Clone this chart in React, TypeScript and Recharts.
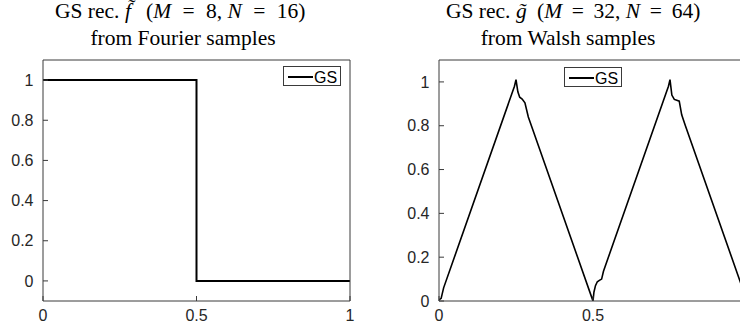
import React from 'react';
import { LineChart, Line, XAxis, YAxis, Legend } from 'recharts';

// ---- data ----
const stepX = [0, 0.5, 0.5, 1];
const stepY = [1, 1, 0, 0];

const triX = [0, 0.007, 0.015, 0.245, 0.25, 0.256, 0.262, 0.27, 0.279, 0.29, 0.3, 0.495, 0.5, 0.503, 0.508, 0.514, 0.522, 0.528, 0.534, 0.745, 0.75, 0.756, 0.764, 0.772, 0.78, 0.788, 0.8, 0.99, 1];
const triY = [0.005, 0.012, 0.06, 0.98, 1.01, 0.955, 0.93, 0.922, 0.905, 0.84, 0.8, 0.02, 0.0, 0.04, 0.07, 0.088, 0.095, 0.1, 0.136, 0.98, 1.01, 0.94, 0.92, 0.916, 0.912, 0.85, 0.8, 0.04, 0.005];

const xTicksLeft = [0, 0.5, 1];
const xTicksRight = [0, 0.5];
const yTicks = [0, 0.2, 0.4, 0.6, 0.8, 1];
const seriesName = 'GS';

const leftData = stepX.map((x, i) => ({ x, y: stepY[i] }));
const rightData = triX.map((x, i) => ({ x, y: triY[i] }));

const AX = '#3a3a3a';
const sans = 'Liberation Sans, Arial, sans-serif';
const serif = 'Liberation Serif, Times New Roman, serif';
const tickStyle = { fontFamily: sans, fontSize: 16, fill: '#262626' };

const LegendBox = (props: any) => {
  const label = props.payload && props.payload[0] ? props.payload[0].value : seriesName;
  return (
    <div style={{ width: 58, height: 20, border: `1px solid ${AX}`, background: '#fff', boxSizing: 'border-box', position: 'relative' }}>
      <svg width={56} height={18} style={{ position: 'absolute', left: 0, top: 0 }}>
        <line x1={4} x2={29} y1={10} y2={10} stroke="#000" strokeWidth={2} />
        <text x={30} y={15.5} style={{ fontFamily: sans, fontSize: 16, fill: '#000' }}>{label}</text>
      </svg>
    </div>
  );
};

const YW = 40; // left axis band width
const XH = 30; // bottom axis band height

function axes(domainY: [number, number], xTicks: number[]) {
  return [
    <XAxis key="xb" xAxisId="b" dataKey="x" type="number" domain={[0, 1]} ticks={xTicks} height={XH}
      tickSize={-5} tickMargin={14} stroke={AX} tick={tickStyle} allowDataOverflow interval={0} />,
    <XAxis key="xt" xAxisId="t" orientation="top" dataKey="x" type="number" domain={[0, 1]} ticks={xTicks} height={1}
      tickSize={-5} tick={false} stroke={AX} allowDataOverflow />,
    <YAxis key="yl" yAxisId="l" type="number" domain={domainY} ticks={yTicks} width={YW}
      tickSize={-5} tickMargin={14.5} stroke={AX} tick={tickStyle} allowDataOverflow interval={0} />,
    <YAxis key="yr" yAxisId="r" orientation="right" type="number" domain={domainY} ticks={yTicks} width={1}
      tickSize={-5} tick={false} stroke={AX} allowDataOverflow />,
  ];
}

const Math1 = ({ x, y, a, b, gap }: { x: number; y: number; a: string; b: string; gap: number }) => (
  <text x={x} y={y}>
    (<tspan fontStyle="italic">M</tspan> <tspan dx={gap}>=</tspan> <tspan dx={gap}>{a},</tspan> <tspan fontStyle="italic">N</tspan> <tspan dx={gap}>=</tspan> <tspan dx={gap}>{b})</tspan>
  </text>
);

export default function App() {
  return (
    <div style={{ position: 'absolute', left: 0, top: 0, width: 740, height: 333, overflow: 'hidden', background: '#fff' }}>
      <div style={{ position: 'absolute', left: 0, top: 0 }}>
        <LineChart width={370} height={333} data={leftData} margin={{ left: 43 - YW, right: 19, top: 59, bottom: 32 - XH }}>
          {axes([-0.1, 1.1], xTicksLeft)}
          <Line xAxisId="b" yAxisId="l" dataKey="y" name={seriesName} type="linear" stroke="#000" strokeWidth={2}
            dot={false} isAnimationActive={false} />
          <Legend layout="horizontal" verticalAlign="middle" align="center" content={<LegendBox />}
            wrapperStyle={{ left: 283, top: 66, width: 58, height: 20 }} />
        </LineChart>
      </div>
      <div style={{ position: 'absolute', left: 370, top: 0 }}>
        <LineChart width={400} height={333} data={rightData} margin={{ left: 69 - YW, right: 22, top: 59, bottom: 32 - XH }}>
          {axes([0, 1.1], xTicksRight)}
          <Line xAxisId="b" yAxisId="l" dataKey="y" name={seriesName} type="linear" stroke="#000" strokeWidth={1.6}
            dot={false} isAnimationActive={false} />
          <Legend layout="horizontal" verticalAlign="middle" align="center" content={<LegendBox />}
            wrapperStyle={{ left: 194, top: 67, width: 58, height: 20 }} />
        </LineChart>
      </div>
      <svg width={740} height={333} style={{ position: 'absolute', left: 0, top: 0, pointerEvents: 'none' }}>
        <g style={{ fontFamily: serif, fontSize: 21.5, fill: '#000' }}>
          <text x={55} y={18}>GS rec.</text>
          <text x={125} y={18} fontStyle="italic">f{'\u0303'}</text>
          <Math1 x={146} y={18} a="8" b="16" gap={6} />
          <text x={183} y={45} textAnchor="middle">from Fourier samples</text>

          <text x={446} y={18}>GS rec.</text>
          <text x={516} y={18} fontStyle="italic">g{'\u0303'}</text>
          <Math1 x={537} y={18} a="32" b="64" gap={4.3} />
          <text x={568} y={45} textAnchor="middle">from Walsh samples</text>
        </g>
      </svg>
    </div>
  );
}
